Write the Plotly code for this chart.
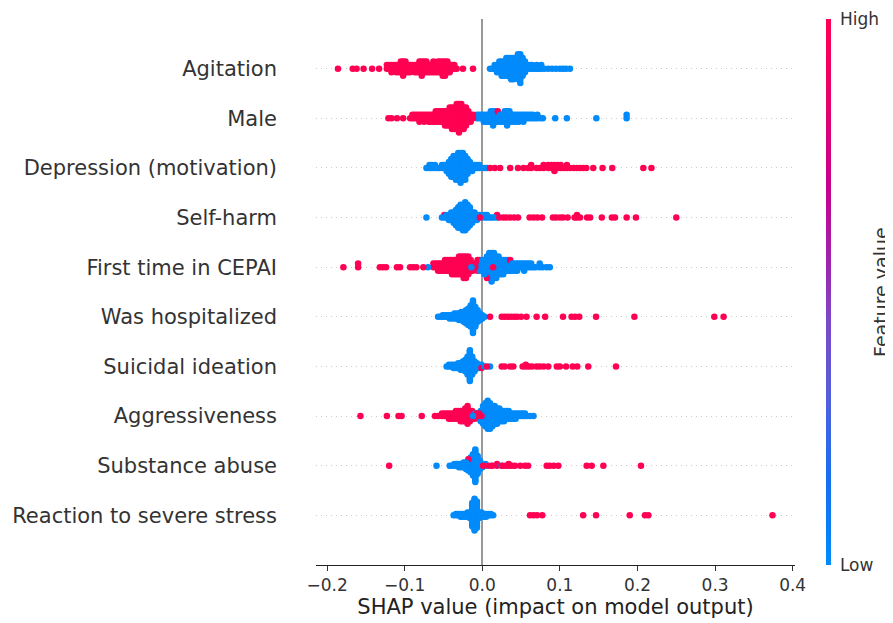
import math
import plotly.graph_objects as go

# ---------------- data (SHAP values) ----------------
# rows listed bottom -> top
feature_names = [
    "Reaction to severe stress", "Substance abuse", "Aggressiveness",
    "Suicidal ideation", "Was hospitalized", "First time in CEPAI",
    "Self-harm", "Depression (motivation)", "Male", "Agitation",
]

# value lists: x = SHAP value, n = number of samples at that value
agitation_high_x = [-0.186, -0.167, -0.162, -0.153, -0.142, -0.133, -0.123, -0.120, -0.117, -0.114,
                    -0.111, -0.108, -0.105, -0.102, -0.099, -0.096, -0.093, -0.090, -0.087, -0.084,
                    -0.081, -0.078, -0.075, -0.072, -0.069, -0.066, -0.063, -0.060, -0.057, -0.054,
                    -0.051, -0.048, -0.045, -0.042, -0.039, -0.036, -0.033, -0.025, -0.012]
agitation_high_n = [1, 1, 1, 1, 1, 1, 2, 2, 3, 2,
                    3, 3, 4, 5, 4, 3, 3, 2, 3, 3,
                    4, 5, 4, 4, 3, 3, 4, 3, 4, 4,
                    5, 5, 4, 3, 2, 2, 1, 1, 1]
agitation_low_x = [0.010, 0.013, 0.016, 0.019, 0.022, 0.025, 0.028, 0.031, 0.034, 0.037, 0.040,
                   0.043, 0.046, 0.049, 0.052, 0.055, 0.058, 0.061, 0.064, 0.067, 0.070, 0.073,
                   0.076, 0.080, 0.085, 0.090, 0.095, 0.100, 0.104, 0.108, 0.113]
agitation_low_n = [1, 1, 2, 3, 4, 5, 5, 6, 6, 7, 7,
                   6, 8, 9, 6, 4, 2, 2, 2, 1, 2, 1,
                   2, 1, 1, 1, 1, 1, 1, 1, 1]

male_high_x = [-0.121, -0.117, -0.110, -0.102, -0.093, -0.090, -0.087, -0.084, -0.081, -0.078,
               -0.075, -0.072, -0.069, -0.066, -0.063, -0.060, -0.057, -0.054, -0.051, -0.048,
               -0.045, -0.042, -0.039, -0.036, -0.033, -0.030, -0.027, -0.024, -0.021, -0.018,
               -0.015, -0.012, 0.020]
male_high_n = [1, 1, 1, 1, 1, 2, 2, 2, 3, 2,
               3, 2, 3, 3, 3, 4, 3, 4, 4, 5,
               5, 6, 7, 7, 8, 9, 8, 7, 6, 4,
               3, 2, 1]
male_low_x = [-0.057, -0.007, -0.004, -0.001, 0.002, 0.005, 0.008, 0.011, 0.014, 0.017, 0.020,
              0.023, 0.026, 0.029, 0.032, 0.035, 0.038, 0.041, 0.044, 0.047, 0.050, 0.053,
              0.056, 0.059, 0.062, 0.065, 0.068, 0.071, 0.075, 0.078, 0.094, 0.109, 0.147, 0.186]
male_low_n = [1, 2, 2, 2, 3, 3, 3, 4, 5, 4, 3,
              3, 3, 4, 5, 4, 3, 3, 3, 3, 2, 3,
              2, 2, 2, 2, 1, 2, 1, 1, 1, 1, 1, 2]

depression_high_x = [0.010, 0.016, 0.023, 0.036, 0.046, 0.053, 0.059, 0.063, 0.070, 0.074,
                     0.079, 0.085, 0.089, 0.093, 0.097, 0.101, 0.105, 0.109, 0.113, 0.118,
                     0.122, 0.126, 0.130, 0.134, 0.143, 0.155, 0.1675, 0.2075, 0.218]
depression_high_n = [1, 1, 1, 1, 1, 1, 1, 2, 1, 1,
                     2, 2, 2, 3, 2, 2, 1, 2, 1, 1,
                     1, 1, 1, 1, 1, 1, 1, 1, 1]
depression_low_x = [-0.072, -0.068, -0.065, -0.061, -0.058, -0.055, -0.052, -0.049, -0.046, -0.043,
                    -0.040, -0.037, -0.034, -0.031, -0.028, -0.025, -0.022, -0.019, -0.016, -0.013,
                    -0.010, -0.007, -0.004, -0.001, 0.003, 0.006]
depression_low_n = [1, 2, 2, 2, 1, 1, 2, 2, 3, 5,
                    7, 8, 9, 10, 11, 10, 9, 6, 4, 3,
                    2, 2, 2, 1, 1, 1]

selfharm_high_x = [-0.049, -0.003, 0.019, 0.022, 0.027, 0.031, 0.036, 0.041, 0.046, 0.061,
                   0.066, 0.071, 0.077, 0.091, 0.095, 0.100, 0.104, 0.110, 0.119, 0.122,
                   0.126, 0.135, 0.139, 0.154, 0.167, 0.171, 0.186, 0.198, 0.250]
selfharm_high_n = [1, 1, 1, 1, 1, 1, 1, 1, 1, 1,
                   1, 1, 1, 1, 1, 1, 1, 1, 1, 2,
                   1, 1, 1, 1, 1, 1, 1, 1, 1]
selfharm_low_x = [-0.072, -0.052, -0.049, -0.046, -0.043, -0.040, -0.037, -0.034, -0.031, -0.028,
                  -0.025, -0.022, -0.019, -0.016, -0.013, -0.010, -0.007, -0.004, -0.001, 0.003,
                  0.006, 0.009, 0.012, 0.015, 0.019]
selfharm_low_n = [1, 1, 1, 2, 3, 4, 5, 7, 9, 10,
                  11, 12, 10, 8, 5, 4, 3, 2, 2, 2,
                  2, 1, 1, 1, 1]

firsttime_high_x = [-0.179, -0.160, -0.132, -0.128, -0.124, -0.110, -0.106, -0.093, -0.089, -0.085,
                    -0.076, -0.063, -0.060, -0.057, -0.054, -0.051, -0.048, -0.045, -0.042, -0.039,
                    -0.036, -0.033, -0.030, -0.027, -0.024, -0.021, -0.018, -0.015, -0.012, -0.009,
                    -0.006, -0.003, 0.006, 0.014, 0.036]
firsttime_high_n = [1, 2, 1, 1, 1, 1, 1, 1, 1, 1,
                    1, 2, 2, 3, 3, 3, 4, 4, 4, 5,
                    5, 5, 6, 6, 7, 7, 6, 4, 3, 2,
                    2, 1, 1, 1, 1]
firsttime_low_x = [-0.070, -0.014, -0.006, -0.003, 0.000, 0.003, 0.006, 0.009, 0.012, 0.015,
                   0.018, 0.021, 0.024, 0.027, 0.030, 0.033, 0.036, 0.039, 0.042, 0.045,
                   0.048, 0.051, 0.054, 0.057, 0.060, 0.063, 0.066, 0.069, 0.074, 0.078,
                   0.083, 0.087]
firsttime_low_n = [1, 1, 2, 3, 4, 5, 6, 8, 9, 8,
                   7, 6, 5, 5, 4, 4, 3, 3, 3, 3,
                   2, 2, 3, 2, 2, 2, 1, 1, 2, 1,
                   1, 1]

hosp_high_x = [0.010, 0.025, 0.029, 0.033, 0.037, 0.041, 0.045, 0.050, 0.057, 0.070,
               0.081, 0.104, 0.115, 0.1195, 0.125, 0.1466, 0.196, 0.299, 0.311]
hosp_high_n = [1] * 19
hosp_low_x = [-0.057, -0.054, -0.051, -0.048, -0.045, -0.042, -0.039, -0.036, -0.033, -0.030,
              -0.027, -0.024, -0.021, -0.018, -0.015, -0.012, -0.009, -0.006, -0.003, 0.000, 0.003]
hosp_low_n = [1, 1, 2, 2, 2, 3, 3, 4, 4, 5,
              6, 7, 9, 11, 14, 21, 13, 8, 5, 3, 1]

suicidal_high_x = [-0.001, 0.006, 0.025, 0.029, 0.036, 0.040, 0.052, 0.056, 0.060, 0.064,
                   0.070, 0.074, 0.079, 0.085, 0.096, 0.100, 0.108, 0.1165, 0.1224, 0.1366, 0.1723]
suicidal_high_n = [1, 1, 1, 1, 1, 1, 1, 2, 1, 1,
                   1, 1, 1, 1, 1, 1, 1, 1, 1, 1, 1]
suicidal_low_x = [-0.046, -0.043, -0.040, -0.037, -0.034, -0.031, -0.028, -0.025, -0.022, -0.019,
                  -0.016, -0.013, -0.010, -0.007, -0.004, -0.001, 0.003, 0.010]
suicidal_low_n = [1, 2, 2, 3, 3, 4, 5, 6, 8, 12,
                  20, 12, 7, 4, 3, 2, 1, 1]

aggress_high_x = [-0.157, -0.123, -0.108, -0.104, -0.078, -0.061, -0.057, -0.052, -0.049, -0.046,
                  -0.043, -0.040, -0.037, -0.034, -0.031, -0.028, -0.025, -0.022, -0.019, -0.016,
                  -0.013, -0.010, -0.007, -0.004, -0.001]
aggress_high_n = [1, 1, 1, 1, 1, 1, 1, 2, 2, 2,
                  3, 3, 3, 4, 4, 5, 5, 6, 8, 5,
                  4, 3, 2, 2, 1]
aggress_low_x = [-0.012, -0.009, -0.005, -0.002, 0.001, 0.004, 0.007, 0.010, 0.013, 0.016,
                 0.019, 0.022, 0.025, 0.028, 0.031, 0.034, 0.037, 0.040, 0.043, 0.046,
                 0.049, 0.052, 0.055, 0.058, 0.062, 0.066]
aggress_low_n = [1, 2, 3, 5, 8, 10, 12, 11, 9, 8,
                 7, 6, 5, 5, 4, 4, 3, 3, 3, 2,
                 2, 2, 2, 1, 1, 1]

substance_high_x = [-0.120, -0.018, 0.001, 0.008, 0.013, 0.019, 0.026, 0.030, 0.034, 0.038,
                    0.042, 0.049, 0.055, 0.059, 0.083, 0.087, 0.092, 0.098, 0.1345, 0.141,
                    0.156, 0.2045]
substance_high_n = [1, 1, 1, 1, 1, 2, 1, 1, 2, 1,
                    1, 1, 1, 1, 1, 1, 1, 1, 1, 1,
                    1, 1]
substance_low_x = [-0.059, -0.042, -0.039, -0.036, -0.033, -0.030, -0.027, -0.024, -0.021, -0.018,
                   -0.015, -0.012, -0.009, -0.006, -0.003, 0.000, 0.004, 0.012, 0.025]
substance_low_n = [1, 1, 1, 2, 2, 3, 3, 4, 5, 7,
                   10, 14, 21, 12, 6, 3, 2, 1, 1]

reaction_high_x = [0.0615, 0.066, 0.0705, 0.0773, 0.130, 0.1466, 0.190, 0.2097, 0.214, 0.374]
reaction_high_n = [1] * 10
reaction_low_x = [-0.037, -0.034, -0.031, -0.028, -0.025, -0.022, -0.019, -0.016, -0.013, -0.010,
                  -0.007, -0.004, -0.001, 0.002, 0.005, 0.008, 0.011, 0.014]
reaction_low_n = [1, 2, 2, 3, 3, 3, 4, 5, 18, 24,
                  20, 5, 4, 3, 3, 2, 2, 1]

x_tick_vals = [-0.2, -0.1, 0.0, 0.1, 0.2, 0.3, 0.4]
x_tick_text = ["\u22120.2", "\u22120.1", "0.0", "0.1", "0.2", "0.3", "0.4"]
colorbar_labels = ["Low", "High"]

rows = [
    (reaction_low_x, reaction_low_n, reaction_high_x, reaction_high_n),
    (substance_low_x, substance_low_n, substance_high_x, substance_high_n),
    (aggress_low_x, aggress_low_n, aggress_high_x, aggress_high_n),
    (suicidal_low_x, suicidal_low_n, suicidal_high_x, suicidal_high_n),
    (hosp_low_x, hosp_low_n, hosp_high_x, hosp_high_n),
    (firsttime_low_x, firsttime_low_n, firsttime_high_x, firsttime_high_n),
    (selfharm_low_x, selfharm_low_n, selfharm_high_x, selfharm_high_n),
    (depression_low_x, depression_low_n, depression_high_x, depression_high_n),
    (male_low_x, male_low_n, male_high_x, male_high_n),
    (agitation_low_x, agitation_low_n, agitation_high_x, agitation_high_n),
]

# ---------------- beeswarm layout (as in shap's summary plot) ----------------
ROW_HEIGHT = 0.4
xs, ys, cs = [], [], []
for pos, (lx, ln, hx, hn) in enumerate(rows):
    groups, order = {}, []
    for vals, cnts, cval in ((lx, ln, 0), (hx, hn, 1)):
        for v, n in zip(vals, cnts):
            key = round(v, 5)
            if key not in groups:
                groups[key] = []
                order.append(key)
            groups[key].extend([cval] * n)
    pts, maxlev = [], 0
    for key in order:
        g = groups[key]
        for k, c in enumerate(g):
            lev = math.ceil(k / 2) * (1 if k % 2 else -1)
            maxlev = max(maxlev, lev)
            pts.append((len(g), key, lev, c))
    scale = 0.9 * ROW_HEIGHT / (maxlev + 1)
    pts.sort(key=lambda p: -p[0])
    for size, key, lev, c in pts:
        xs.append(key)
        ys.append(pos + lev * scale)
        cs.append(c)

colorscale = [
    [0.0, "rgb(0,138,250)"],
    [0.15, "rgb(20,112,238)"],
    [0.3, "rgb(80,96,222)"],
    [0.45, "rgb(125,72,200)"],
    [0.55, "rgb(158,36,176)"],
    [0.7, "rgb(200,0,140)"],
    [0.85, "rgb(230,0,108)"],
    [1.0, "rgb(255,0,82)"],
]

FONT = "DejaVu Sans"
# the page body adds an 8px offset; sizes chosen so the plot lands where the reference has it
OFF = 8
W, H = 893 - OFF, 623 - OFF
L = 316 - OFF
T = 19 - OFF
R = W + OFF - 795
B = H + OFF - 565
pw = W - L - R

fig = go.Figure()
fig.add_trace(go.Scatter(
    x=xs, y=ys, mode="markers", hoverinfo="skip", showlegend=False,
    marker=dict(
        size=6.5, color=cs, colorscale=colorscale, cmin=0, cmax=1,
        line=dict(width=0), opacity=1,
        showscale=True,
        colorbar=dict(
            thickness=5, len=1, lenmode="fraction", y=0.5, yanchor="middle",
            x=(826 - 316) / pw, xanchor="left", xpad=0, ypad=0, outlinewidth=0,
            tickvals=[0, 1], ticktext=colorbar_labels,
            ticks="outside", ticklen=6, tickcolor="rgba(0,0,0,0)",
            tickfont=dict(family=FONT, size=17, color="#333333"),
        ),
    ),
))

fig.add_annotation(
    text="Feature value", xref="paper", yref="paper",
    x=(881 - 316) / pw, y=0.5, textangle=-90, showarrow=False,
    font=dict(family=FONT, size=19, color="#333333"),
    xanchor="center", yanchor="middle",
)

fig.update_layout(
    width=W, height=H,
    margin=dict(l=L, r=R, t=T, b=B, pad=0),
    plot_bgcolor="white", paper_bgcolor="white",
    font=dict(family=FONT, color="#333333"),
    xaxis=dict(
        range=[-0.2143, 0.403], tickvals=x_tick_vals, ticktext=x_tick_text,
        ticks="outside", ticklen=5, tickwidth=1, tickcolor="#333333",
        showline=True, linecolor="#222222", linewidth=1,
        showgrid=False, zeroline=True, zerolinecolor="#999999", zerolinewidth=1.6,
        tickfont=dict(family=FONT, size=17, color="#333333"),
        title=dict(text="SHAP value (impact on model output)",
                   font=dict(family=FONT, size=21, color="#222222"), standoff=0),
        automargin=False,
    ),
    yaxis=dict(
        range=[-1, 10], tickvals=list(range(len(feature_names))), ticktext=feature_names,
        showgrid=True, gridcolor="#cccccc", gridwidth=0.8, griddash="1px,4px",
        zeroline=False, showline=False, ticks="", ticklabelstandoff=38,
        tickfont=dict(family=FONT, size=21, color="#333333"),
        automargin=False,
    ),
)

fig.write_html("out.html")
